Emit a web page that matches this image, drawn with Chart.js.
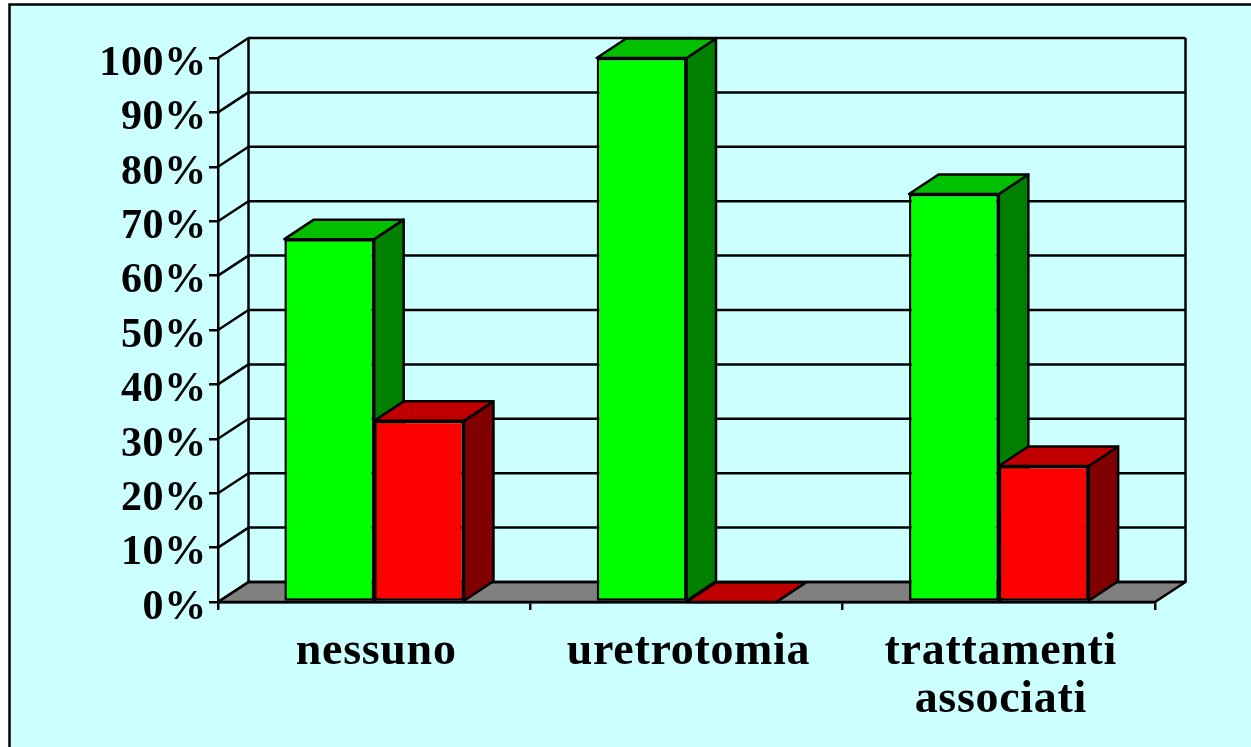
<!DOCTYPE html>
<html>
<head>
<meta charset="utf-8">
<title>chart</title>
<style>
  html, body { margin: 0; padding: 0; background: #fff; }
  canvas { display: block; }
</style>
<script src="https://cdn.jsdelivr.net/npm/chart.js@4"></script>
</head>
<body>
<canvas id="chart" width="1251" height="747"></canvas>
<script>
const categories = ['nessuno', 'uretrotomia', ['trattamenti', 'associati']];
const greenValues = [66.7, 100, 75];
const redValues = [33.3, 0, 25];
const yTickLabels = ['0%', '10%', '20%', '30%', '40%', '50%', '60%', '70%', '80%', '90%', '100%'];

// depth of the fake 3d box
const wallDepthX = 30.5;
const wallDepthY = -20;
const barDepthX = 29.5;
const barDepthY = -19.5;

function poly(ctx, pts, fill) {
    ctx.beginPath();
    ctx.moveTo(pts[0][0], pts[0][1]);
    for (let i = 1; i < pts.length; i++) ctx.lineTo(pts[i][0], pts[i][1]);
    ctx.closePath();
    if (fill) {
        ctx.fillStyle = fill;
        ctx.fill();
    }
    ctx.stroke();
}

const framePlugin = {
    id: 'frame',
    beforeDraw(chart) {
        const ctx = chart.ctx;
        // the original text is spaced a little wider than the font
        ctx.letterSpacing = '0.7px';
        ctx.save();
        ctx.fillStyle = '#CCFFFF';
        ctx.fillRect(9, 4, chart.width - 9, chart.height - 4);
        ctx.strokeStyle = '#000';
        ctx.lineWidth = 2.5;
        ctx.beginPath();
        ctx.moveTo(9.5, chart.height);
        ctx.lineTo(9.5, 4.5);
        ctx.lineTo(chart.width, 4.5);
        ctx.stroke();
        ctx.restore();
    }
};

const box3dPlugin = {
    id: 'box3d',
    beforeDatasetsDraw(chart) {
        const ctx = chart.ctx;
        const y = chart.scales.y;
        const x = chart.scales.x;
        const left = x.left, right = x.right;
        const zero = y.getPixelForValue(0);
        ctx.save();
        ctx.strokeStyle = '#000';
        ctx.lineWidth = 2.5;
        ctx.lineJoin = 'round';

        // floor
        poly(ctx, [[left, zero], [right, zero], [right + wallDepthX, zero + wallDepthY], [left + wallDepthX, zero + wallDepthY]], '#808080');

        // walls, one line per tick
        y.ticks.forEach(t => {
            const py = y.getPixelForValue(t.value);
            ctx.beginPath();
            ctx.moveTo(left, py);
            ctx.lineTo(left + wallDepthX, py + wallDepthY);
            ctx.lineTo(right + wallDepthX, py + wallDepthY);
            ctx.stroke();
        });
        const top = y.getPixelForValue(100);
        ctx.beginPath();
        ctx.moveTo(left + wallDepthX, zero + wallDepthY);
        ctx.lineTo(left + wallDepthX, top + wallDepthY);
        ctx.moveTo(right + wallDepthX, zero + wallDepthY);
        ctx.lineTo(right + wallDepthX, top + wallDepthY);
        ctx.stroke();

        // tops and sides, green first so red covers it
        const shades = [['#00C000', '#008000'], ['#C00000', '#800000']];
        chart.data.datasets.forEach((ds, i) => {
            chart.getDatasetMeta(i).data.forEach(bar => {
                const l = bar.x - bar.width / 2;
                const r = bar.x + bar.width / 2;
                const t = bar.y, b = bar.base;
                poly(ctx, [[r, t], [r + barDepthX, t + barDepthY], [r + barDepthX, b + barDepthY], [r, b]], shades[i][1]);
                poly(ctx, [[l, t], [l + barDepthX, t + barDepthY], [r + barDepthX, t + barDepthY], [r, t]], shades[i][0]);
            });
        });
        ctx.restore();
    }
};

new Chart(document.getElementById('chart'), {
    type: 'bar',
    data: {
        labels: categories,
        datasets: [
            { data: greenValues, backgroundColor: '#00FF00', borderColor: '#000', borderWidth: 2.5, borderSkipped: false },
            { data: redValues, backgroundColor: '#FF0000', borderColor: '#000', borderWidth: 2.5, borderSkipped: false }
        ]
    },
    options: {
        responsive: false,
        animation: false,
        layout: { padding: { top: 58, right: 96, left: 0, bottom: 0 } },
        categoryPercentage: 0.575,
        barPercentage: 1,
        scales: {
            x: {
                afterFit: s => { s.height = 145; },
                border: { color: '#000', width: 2.5 },
                grid: { offset: true, drawOnChartArea: false, color: '#000', lineWidth: 2.5, tickLength: 8 },
                ticks: {
                    color: '#000',
                    maxRotation: 0,
                    autoSkip: false,
                    padding: 18,
                    labelOffset: 2,
                    font: { family: '"Liberation Serif"', size: 46, weight: 'bold', lineHeight: 1.05 }
                }
            },
            y: {
                min: 0,
                max: 100,
                afterFit: s => { s.width = 218; },
                border: { color: '#000', width: 2.5 },
                grid: { drawOnChartArea: false, color: '#000', lineWidth: 2.5, tickLength: 9 },
                ticks: {
                    stepSize: 10,
                    color: '#000',
                    padding: 2,
                    labelOffset: 6,
                    callback: (v, i) => yTickLabels[i],
                    font: { family: '"Liberation Serif"', size: 42, weight: 'bold' }
                }
            }
        },
        plugins: {
            legend: { display: false },
            title: { display: false },
            tooltip: { enabled: false }
        }
    },
    plugins: [framePlugin, box3dPlugin]
});
</script>
</body>
</html>
